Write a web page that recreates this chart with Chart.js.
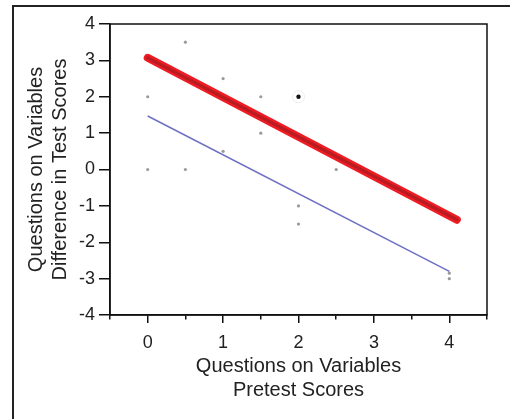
<!DOCTYPE html>
<html>
<head>
<meta charset="utf-8">
<script src="https://cdn.jsdelivr.net/npm/chart.js@4"></script>
<style>
  html, body { margin: 0; padding: 0; background: #fff; }
  #wrap { width: 510px; height: 419px; position: relative; }
</style>
</head>
<body>
<div id="wrap"><canvas id="chart" width="510" height="419"></canvas></div>
<script>
// --- dados ---
const pontosX = [0, 0, 0.5, 0.5, 1, 1, 1.5, 1.5, 2, 2, 2.5, 4, 4];
const pontosY = [2, 0, 3.5, 0, 2.5, 0.5, 2, 1, -1, -1.5, 0, -2.85, -3];
const destaqueX = [2];
const destaqueY = [2];
const retaVermelhaX = [0, 4.1];
const retaVermelhaY = [3.07, -1.38];
const retaAzulX = [0, 4];
const retaAzulY = [1.47, -2.8];
const ticksX = [0, 1, 2, 3, 4];
const ticksY = [-4, -3, -2, -1, 0, 1, 2, 3, 4];
const tituloX = ['Questions on Variables', 'Pretest Scores'];
const tituloY = ['Questions on Variables', 'Difference in Test Scores'];

const juntar = (xs, ys) => xs.map((x, i) => ({ x: x, y: ys[i] }));
const fonte = 'Liberation Sans, Arial, Helvetica, sans-serif';

// moldura externa + caixa do gráfico
const molduraPlugin = {
    id: 'moldura',
    beforeDraw(chart) {
        const c = chart.ctx;
        c.save();
        c.strokeStyle = '#222';
        c.lineWidth = 2;
        c.beginPath();
        c.moveTo(13, 419);
        c.lineTo(13, 6);
        c.lineTo(510, 6);
        c.stroke();
        c.restore();
    },
    afterDraw(chart) {
        const a = chart.chartArea;
        const c = chart.ctx;
        c.save();
        c.strokeStyle = '#111';
        c.lineWidth = 1.5;
        c.strokeRect(a.left, a.top, a.right - a.left, a.bottom - a.top);
        c.restore();
    }
};

new Chart(document.getElementById('chart'), {
    type: 'scatter',
    data: {
        datasets: [
            {
                label: 'anel', data: juntar(destaqueX, destaqueY),
                pointRadius: 6, pointBackgroundColor: 'rgba(0,0,0,0)',
                pointBorderColor: '#ececec', pointBorderWidth: 1, order: 5
            },
            {
                label: 'pontos', data: juntar(pontosX, pontosY),
                pointRadius: 1.6, pointBackgroundColor: '#9a9a9a', pointBorderWidth: 0, order: 4
            },
            {
                label: 'destaque', data: juntar(destaqueX, destaqueY),
                pointRadius: 2.2, pointBackgroundColor: '#111', pointBorderWidth: 0, order: 3
            },
            {
                label: 'azul', type: 'line', data: juntar(retaAzulX, retaAzulY),
                borderColor: '#6f6fc4', borderWidth: 1.5, pointRadius: 0, order: 2
            },
            {
                label: 'vermelha', type: 'line', data: juntar(retaVermelhaX, retaVermelhaY),
                borderColor: '#ee1c24', borderWidth: 8, pointRadius: 0, borderCapStyle: 'round', order: 1
            },
            {
                label: 'vermelhaCentro', type: 'line', data: juntar(retaVermelhaX, retaVermelhaY),
                borderColor: '#b81c20', borderWidth: 3, pointRadius: 0, borderCapStyle: 'round', order: 0
            }
        ]
    },
    options: {
        responsive: false,
        animation: false,
        layout: { padding: { left: 0, top: 24, right: 23, bottom: 0 } },
        plugins: { legend: { display: false }, tooltip: { enabled: false } },
        scales: {
            x: {
                type: 'linear', min: -0.5, max: 4.5,
                afterFit: (s) => { s.height = 104; },
                afterBuildTicks: (s) => {
                    const t = [];
                    for (let v = -0.5; v <= 4.5; v += 0.5) t.push({ value: v });
                    s.ticks = t;
                },
                grid: {
                    drawOnChartArea: false, color: '#111', tickLength: 8, lineWidth: 1.5,
                    tickBorderDash: (ctx) => (ctx.tick && ticksX.includes(ctx.tick.value)) ? [] : [4, 20]
                },
                border: { display: true, color: '#111', width: 1.5 },
                ticks: {
                    color: '#222', padding: 9, maxRotation: 0, autoSkip: false,
                    font: { family: fonte, size: 18 },
                    callback: (v) => ticksX.includes(v) ? String(v) : ''
                },
                title: {
                    display: true, text: tituloX, color: '#222',
                    font: { family: fonte, size: 20, lineHeight: 1.2 },
                    padding: { top: 0, bottom: 17 }
                }
            },
            y: {
                type: 'linear', min: -4, max: 4,
                afterFit: (s) => { s.width = 110; },
                afterBuildTicks: (s) => { s.ticks = ticksY.map(v => ({ value: v })); },
                grid: { drawOnChartArea: false, color: '#111', tickLength: 11, lineWidth: 1.5 },
                border: { display: true, color: '#111', width: 1.5 },
                ticks: {
                    color: '#222', padding: 4,
                    font: { family: fonte, size: 18 }
                },
                title: {
                    display: true, text: tituloY, color: '#222',
                    font: { family: fonte, size: 20, lineHeight: 1.2 },
                    padding: { top: 24, bottom: 0 }
                }
            }
        }
    },
    plugins: [molduraPlugin]
});
</script>
</body>
</html>
